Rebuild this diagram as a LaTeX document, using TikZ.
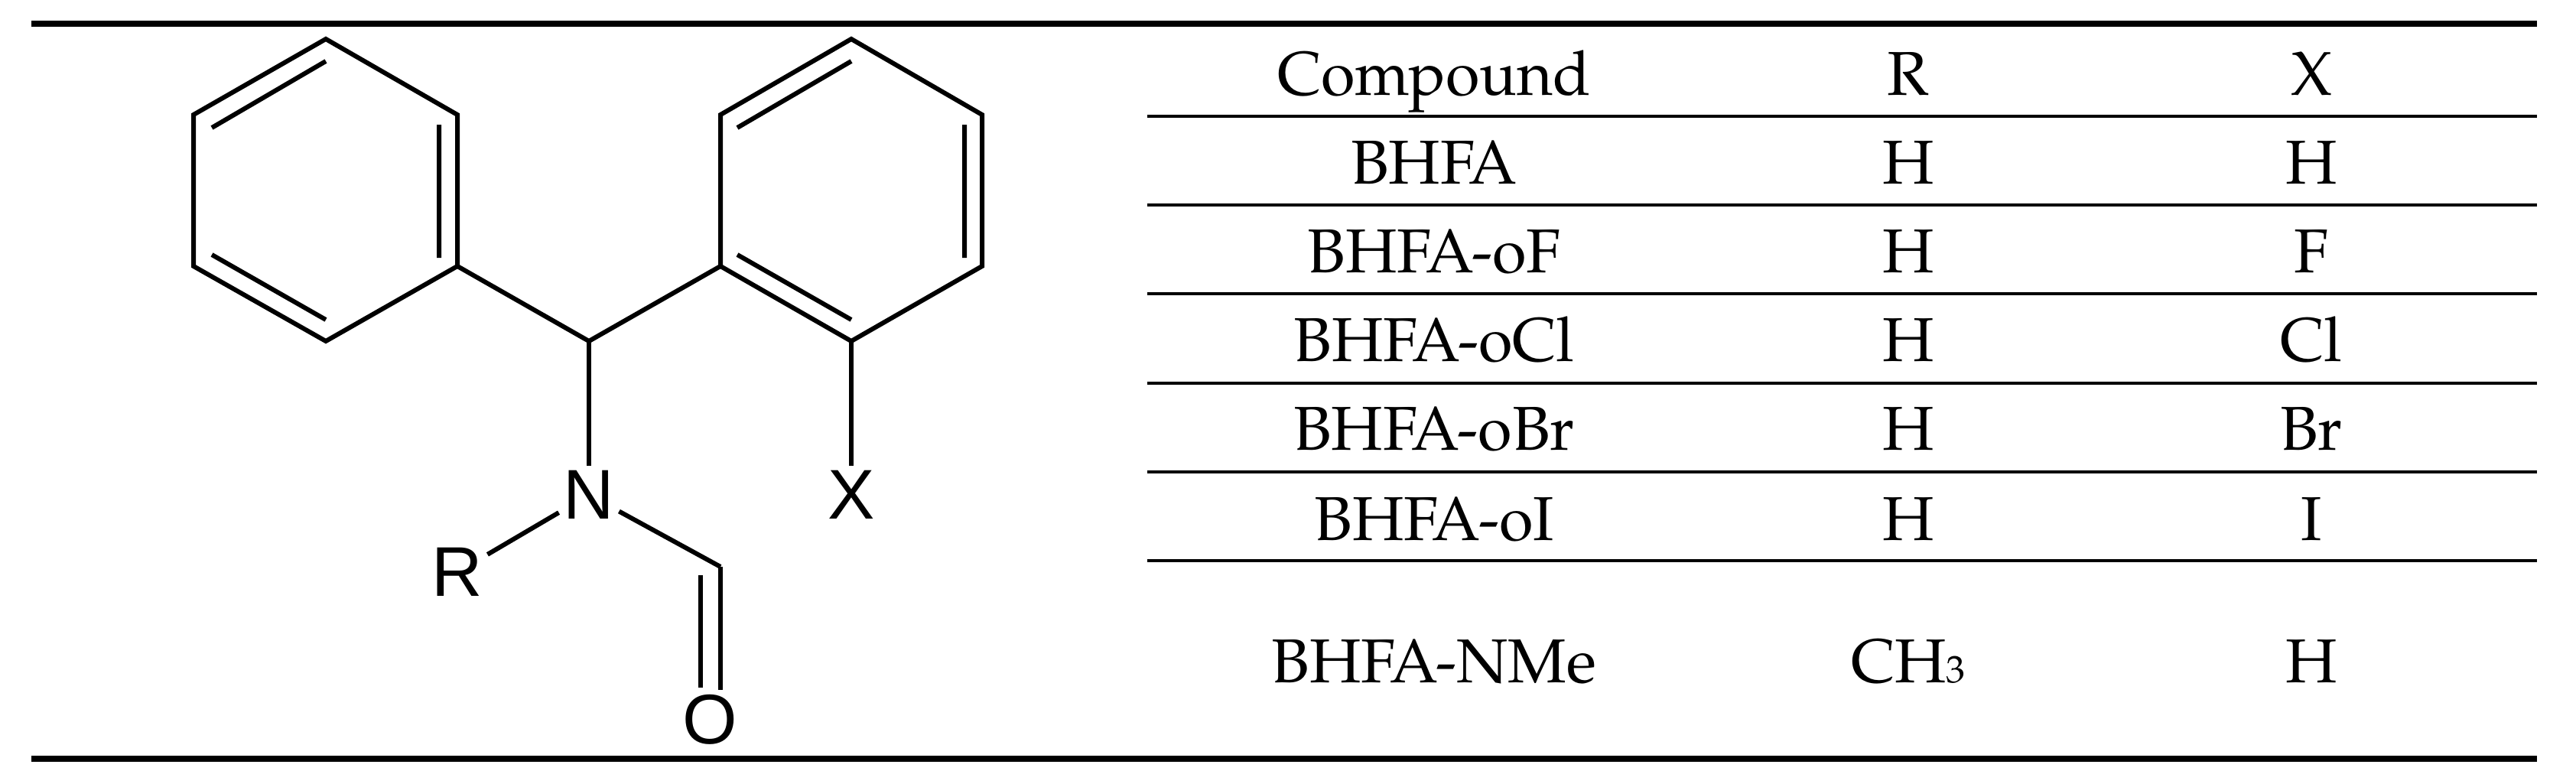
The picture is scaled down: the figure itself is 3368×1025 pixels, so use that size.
\documentclass[tikz,border=0pt]{standalone}
\usepackage{fontspec}
\setmainfont{TeX Gyre Pagella}
\newfontfamily\atomfont{Liberation Sans}
\begin{document}
\begin{tikzpicture}[x=1pt,y=-1pt,
  bond/.style={line width=6pt,line join=miter},
  rule/.style={line width=8pt},
  thin/.style={line width=4pt},
  atom/.style={font=\atomfont\fontsize{92}{92}\selectfont,inner sep=6pt},
  cell/.style={font=\fontsize{81}{90}\selectfont,inner sep=0pt,anchor=base}]
\useasboundingbox (0,0) rectangle (3368,1025);
% left ring
\coordinate (a1) at (426,51); \coordinate (a2) at (253,150); \coordinate (a3) at (253,348);
\coordinate (a4) at (426,446); \coordinate (a5) at (598,348); \coordinate (a6) at (598,150);
\coordinate (ch) at (770,446);
\coordinate (b1) at (942,150); \coordinate (b2) at (1113,51); \coordinate (b3) at (1284,150);
\coordinate (b4) at (1284,348); \coordinate (b5) at (1113,446); \coordinate (b6) at (942,348);
\coordinate (cc) at (942,741);
\node[atom] (N) at (770,647) {N};
\node[atom] (X) at (1113,647) {X};
\node[atom] (R) at (598,748) {R};
\node[atom] (O) at (928,941) {O};
\draw[bond] (a1)--(a2)--(a3)--(a4)--(a5)--(a6)--cycle;
\draw[bond] (b1)--(b2)--(b3)--(b4)--(b5)--(b6)--cycle;
\draw[bond] (a5)--(ch)--(b6);
\draw[bond] (ch)--(N);
\draw[bond] (b5)--(X);
\draw[bond] (R)--(N);
\draw[bond] (N)--(cc);
\draw[bond] (cc)--(cc|-O.north);
% inner double bond lines
\coordinate (i1) at (277,167); \coordinate (i2) at (426,80);
\coordinate (i3) at (574,163); \coordinate (i4) at (574,337);
\coordinate (i5) at (277,333); \coordinate (i6) at (426,418);
\coordinate (j1) at (964,167); \coordinate (j2) at (1113,80);
\coordinate (j3) at (1261,163); \coordinate (j4) at (1261,337);
\coordinate (j5) at (964,333); \coordinate (j6) at (1113,418);
\coordinate (k1) at (916,752); \coordinate (k2) at (916,899);
\draw[bond] (i1)--(i2) (i3)--(i4) (i5)--(i6);
\draw[bond] (j1)--(j2) (j3)--(j4) (j5)--(j6);
\draw[bond] (k1)--(k2);
% table rules
\coordinate (tl) at (41,31); \coordinate (tr) at (3317,31);
\coordinate (bl) at (41,992); \coordinate (br) at (3317,992);
\draw[rule] (tl)--(tr);
\draw[rule] (bl)--(br);
\foreach \y in {152,268,384,501,617,733}{\draw[thin] (1500,\y)--(3317,\y);}
% cells
\foreach \t/\r/\x/\y [count=\i] in {Compound/R/X/124, BHFA/H/H/240, BHFA-oF/H/F/356, BHFA-oCl/H/Cl/472, BHFA-oBr/H/Br/588, BHFA-oI/H/I/706}{
  \node[cell] (c\i) at (1875,\y) {\t};
  \node[cell] (r\i) at (2495,\y) {\r};
  \node[cell] (x\i) at (3022,\y) {\x};
}
\node[cell] (c7) at (1875,892) {BHFA-NMe};
\node[cell] (r7) at (2495,892) {CH{\fontsize{50}{50}\selectfont 3}};
\node[cell] (x7) at (3022,892) {H};
\end{tikzpicture}
\end{document}
